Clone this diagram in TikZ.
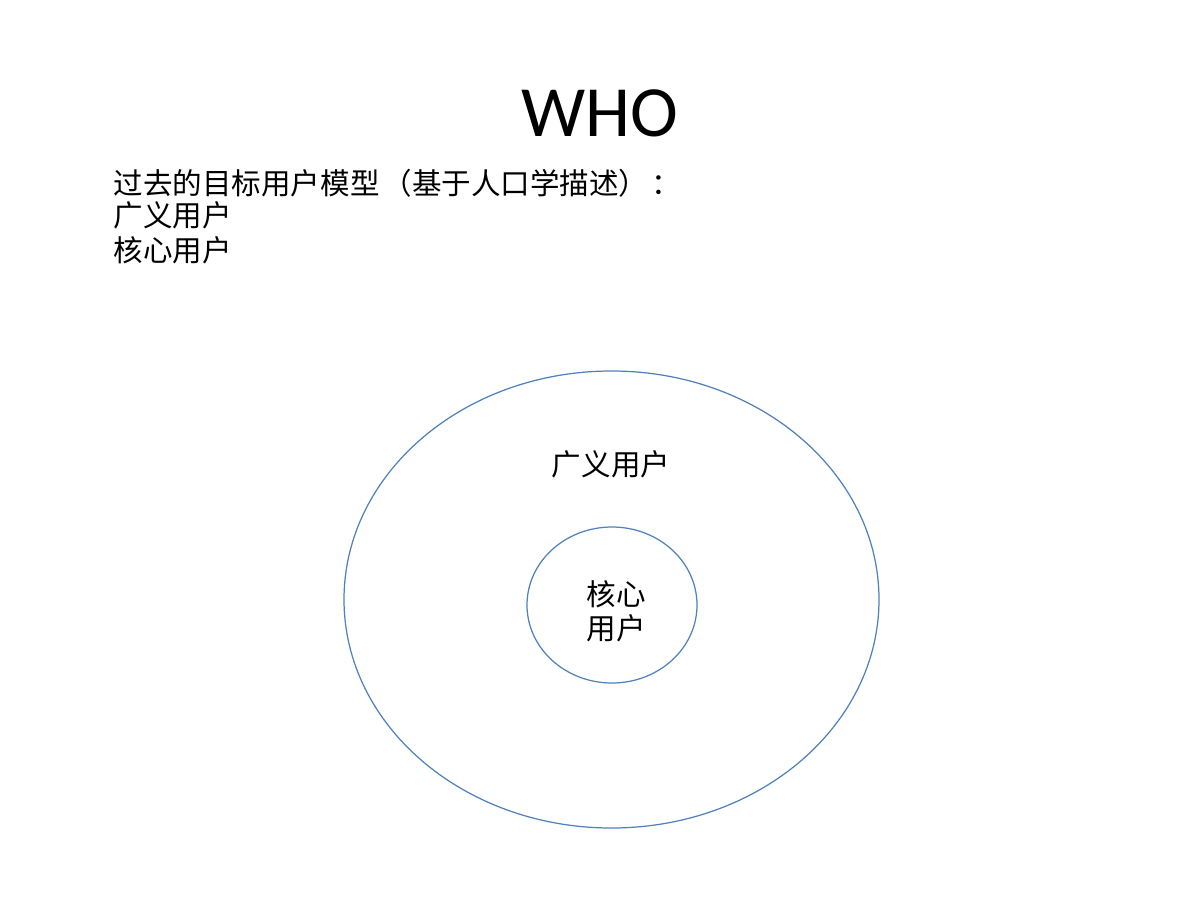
\documentclass[tikz,border=0pt]{standalone}
\usepackage{fontspec}
\setmainfont{Carlito}
\newfontfamily\cjk{Noto Sans CJK SC}
\definecolor{ellblue}{HTML}{4F81BD}
\begin{document}
\begin{tikzpicture}[x=0.01cm,y=-0.01cm,
  ring/.style={draw=ellblue, line width=0.35pt},
  cjktext/.style={font=\cjk\fontsize{8.4pt}{9.6pt}\selectfont, inner sep=0pt},
  titletext/.style={font=\fontsize{20.5pt}{24pt}\selectfont, inner sep=0pt}]
\useasboundingbox[fill=white] (0,0) rectangle (1200,900);
\node[titletext] (title) at (600,113) {WHO};
\node[cjktext, anchor=west] (l1) at (113,183) {过去的目标用户模型\hspace{0.1em}（基于人口学描述）\hspace{0.12em}：};
\node[cjktext, anchor=west] (l2) at (113,215) {广义用户};
\node[cjktext, anchor=west] (l3) at (113,250) {核心用户};
\draw[ring] (611.5,599.5) ellipse [x radius=267.5, y radius=228.5];
\draw[ring] (612,605) ellipse [x radius=85, y radius=78];
\node[cjktext] (broad) at (611,464) {广义用户};
\node[cjktext, align=center, font=\cjk\fontsize{8.4pt}{9.7pt}\selectfont] (core) at (616,611) {核心\\用户};
\end{tikzpicture}
\end{document}
